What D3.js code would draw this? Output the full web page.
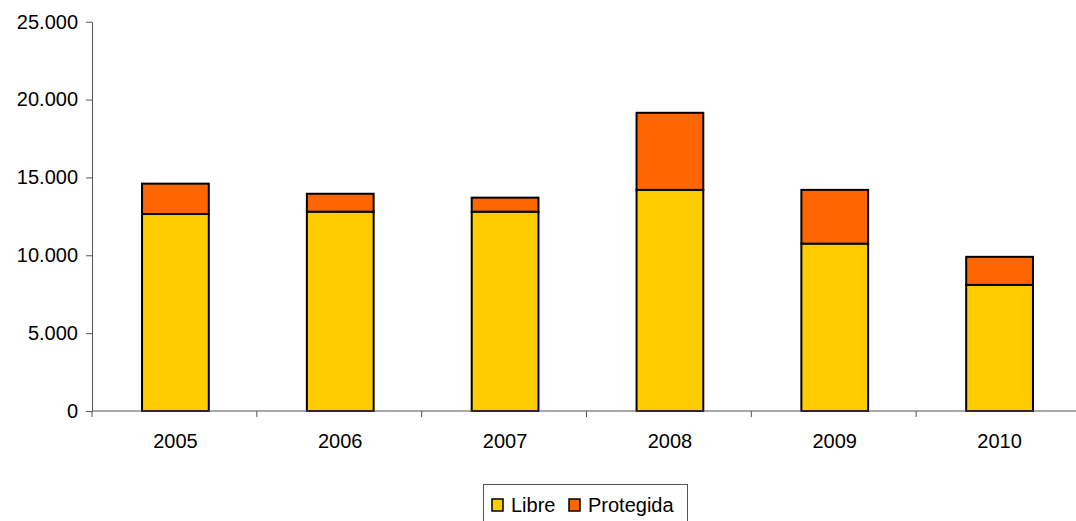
<!DOCTYPE html>
<html>
<head>
<meta charset="utf-8">
<script src="https://cdn.jsdelivr.net/npm/d3@7"></script>
<style>
  html, body { margin: 0; padding: 0; background: #fff; }
  svg { display: block; font-family: Arial, "Liberation Sans", sans-serif; }
</style>
</head>
<body>
<svg id="chart" width="1076" height="521"></svg>
<script>
// Annual totals split into free ("Libre") and protected ("Protegida") units
const years = ["2005", "2006", "2007", "2008", "2009", "2010"];
const libre = [12650, 12800, 12800, 14200, 10750, 8100];
const protegida = [1950, 1150, 900, 4950, 3450, 1800];
const seriesNames = ["Libre", "Protegida"];
const seriesColors = ["#FFCC00", "#FF6600"];
const yTicks = [0, 5000, 10000, 15000, 20000, 25000];

const svg = d3.select("#chart");
const plot = { left: 92, right: 1081, top: 21.7, bottom: 411 };

const x = d3.scaleBand().domain(years).range([plot.left + 1, plot.right + 1]).paddingInner(0.595).paddingOuter(0.2975);
const y = d3.scaleLinear().domain([0, 25000]).range([plot.bottom, plot.top]);

const rows = years.map((yr, i) => ({ year: yr, Libre: libre[i], Protegida: protegida[i] }));
const stacked = d3.stack().keys(seriesNames)(rows);

const fmt = v => d3.format(",")(v).replace(/,/g, ".");

// Y axis
const yAxis = svg.append("g").attr("transform", `translate(${plot.left},0)`)
  .call(d3.axisLeft(y).tickValues(yTicks).tickSize(6).tickSizeOuter(0).tickPadding(8).tickFormat(fmt));
yAxis.select(".domain").attr("stroke", "#555");
yAxis.selectAll(".tick line").attr("stroke", "#555");
yAxis.selectAll("text").attr("font-size", 20).attr("fill", "#000").attr("font-family", "Arial, 'Liberation Sans', sans-serif");

// Bars
svg.append("g").selectAll("g").data(stacked).join("g")
  .attr("fill", (d, i) => seriesColors[i])
  .selectAll("rect").data(d => d).join("rect")
  .attr("x", d => x(d.data.year))
  .attr("width", x.bandwidth())
  .attr("y", d => y(d[1]))
  .attr("height", d => y(d[0]) - y(d[1]))
  .attr("stroke", "#000").attr("stroke-width", 2);

// X axis with ticks on category boundaries
const xg = svg.append("g").attr("transform", `translate(0,${plot.bottom})`);
xg.append("line").attr("x1", plot.left).attr("x2", 1076).attr("stroke", "#555");
const step = x.step();
const bounds = d3.range(years.length + 1).map(i => plot.left + i * step);
xg.selectAll("line.tk").data(bounds).join("line").attr("class", "tk")
  .attr("x1", d => d).attr("x2", d => d).attr("y1", 0).attr("y2", 6).attr("stroke", "#555");
xg.selectAll("text").data(years).join("text")
  .attr("x", d => x(d) + x.bandwidth() / 2).attr("y", 37)
  .attr("text-anchor", "middle").attr("font-size", 20).attr("fill", "#000").text(d => d);

// Legend
const lg = svg.append("g");
lg.append("rect").attr("x", 483.5).attr("y", 484.5).attr("width", 204).attr("height", 45)
  .attr("fill", "#fff").attr("stroke", "#555");
const items = [{ name: "Libre", sx: 492, tx: 511 }, { name: "Protegida", sx: 569, tx: 588 }];
items.forEach((it, i) => {
  lg.append("rect").attr("x", it.sx).attr("y", 499).attr("width", 11).attr("height", 12)
    .attr("fill", seriesColors[i]).attr("stroke", "#000").attr("stroke-width", 1.5);
  lg.append("text").attr("x", it.tx).attr("y", 512).attr("font-size", 20).attr("fill", "#000").text(it.name);
});
</script>
</body>
</html>
